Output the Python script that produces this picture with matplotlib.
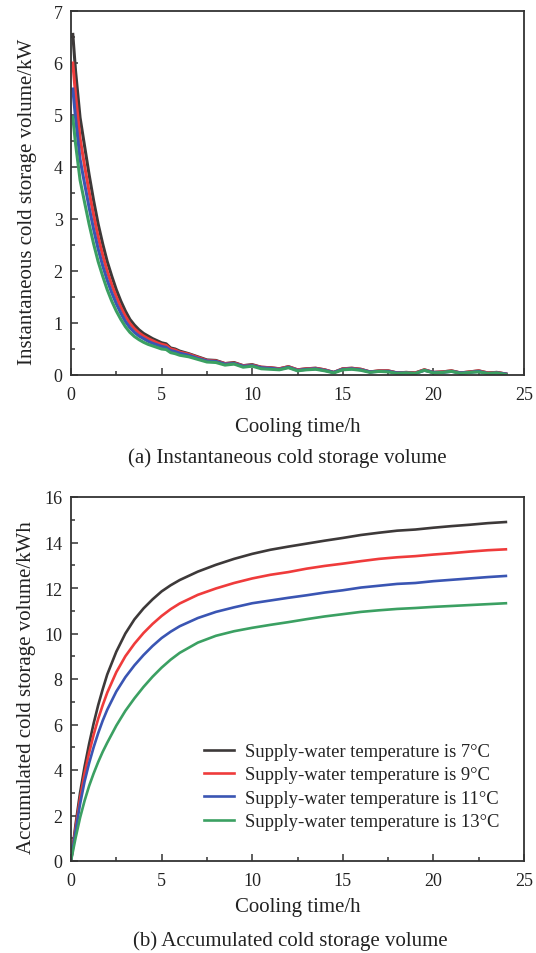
import matplotlib
matplotlib.use("Agg")
import matplotlib.pyplot as plt
from matplotlib.ticker import MultipleLocator

plt.rcParams['font.family'] = ['Liberation Serif', 'DejaVu Serif']

# 图例标签与配色
labels = [
    'Supply-water temperature is 7°C',
    'Supply-water temperature is 9°C',
    'Supply-water temperature is 11°C',
    'Supply-water temperature is 13°C',
]
colors = ['#3d3939', '#ef3b3b', '#3a55b3', '#3ba062']

# (a) 瞬时蓄冷量 /kW
t_inst = [0.1, 0.25, 0.5, 0.75, 1.0, 1.25, 1.5, 1.75, 2.0, 2.25, 2.5, 2.75, 3.0,
          3.25, 3.5, 3.75, 4.0, 4.25, 4.5, 4.75, 5.0, 5.25, 5.5, 5.75, 6.0, 6.5,
          7.0, 7.5, 8.0, 8.5, 9.0, 9.5, 10.0, 10.5, 11.0, 11.5, 12.0, 12.5, 13.0,
          13.5, 14.0, 14.5, 15.0, 15.5, 16.0, 16.5, 17.0, 17.5, 18.0, 18.5, 19.0,
          19.5, 20.0, 20.5, 21.0, 21.5, 22.0, 22.5, 23.0, 23.5, 24.0]
inst_7 = [6.55, 5.85, 4.95, 4.40, 3.85, 3.35, 2.90, 2.52, 2.18, 1.90, 1.64, 1.42, 1.23,
          1.07, 0.96, 0.87, 0.80, 0.75, 0.70, 0.66, 0.62, 0.60, 0.52, 0.50, 0.46, 0.41,
          0.35, 0.29, 0.28, 0.22, 0.24, 0.18, 0.20, 0.15, 0.14, 0.12, 0.16, 0.10, 0.12,
          0.13, 0.10, 0.05, 0.12, 0.13, 0.11, 0.06, 0.08, 0.08, 0.04, 0.05, 0.04,
          0.10, 0.05, 0.06, 0.08, 0.04, 0.06, 0.08, 0.04, 0.05, 0.02]
inst_9 = [6.00, 5.40, 4.55, 4.02, 3.52, 3.07, 2.65, 2.30, 1.99, 1.73, 1.50, 1.30, 1.13,
          0.99, 0.89, 0.81, 0.75, 0.70, 0.66, 0.62, 0.59, 0.57, 0.50, 0.48, 0.44, 0.40,
          0.34, 0.28, 0.27, 0.22, 0.23, 0.18, 0.19, 0.15, 0.14, 0.12, 0.16, 0.10, 0.12,
          0.13, 0.10, 0.05, 0.12, 0.13, 0.11, 0.06, 0.08, 0.08, 0.04, 0.05, 0.04,
          0.10, 0.05, 0.06, 0.08, 0.04, 0.06, 0.08, 0.04, 0.05, 0.02]
inst_11 = [5.50, 4.95, 4.15, 3.68, 3.22, 2.80, 2.42, 2.10, 1.82, 1.58, 1.37, 1.19, 1.03,
           0.91, 0.82, 0.75, 0.70, 0.65, 0.61, 0.58, 0.55, 0.53, 0.47, 0.45, 0.42, 0.38,
           0.32, 0.27, 0.26, 0.21, 0.22, 0.17, 0.18, 0.14, 0.13, 0.11, 0.15, 0.09, 0.11,
           0.12, 0.09, 0.05, 0.11, 0.12, 0.10, 0.06, 0.07, 0.07, 0.04, 0.04, 0.03,
           0.09, 0.05, 0.05, 0.07, 0.04, 0.05, 0.07, 0.03, 0.04, 0.02]
inst_13 = [4.96, 4.45, 3.75, 3.32, 2.90, 2.52, 2.18, 1.90, 1.64, 1.42, 1.23, 1.07, 0.93,
           0.82, 0.74, 0.68, 0.63, 0.59, 0.56, 0.53, 0.50, 0.49, 0.43, 0.41, 0.38, 0.35,
           0.30, 0.25, 0.24, 0.19, 0.21, 0.15, 0.17, 0.12, 0.11, 0.10, 0.14, 0.08, 0.10,
           0.11, 0.08, 0.04, 0.10, 0.11, 0.09, 0.05, 0.07, 0.06, 0.03, 0.04, 0.03,
           0.09, 0.04, 0.05, 0.07, 0.03, 0.05, 0.06, 0.03, 0.04, 0.01]

# (b) 累计蓄冷量 /kWh
t_acc = [0, 0.25, 0.5, 0.75, 1, 1.25, 1.5, 1.75, 2, 2.5, 3, 3.5, 4, 4.5, 5, 5.5, 6,
         7, 8, 9, 10, 11, 12, 13, 14, 15, 16, 17, 18, 19, 20, 21, 22, 23, 24]
acc_7 = [0, 1.6, 3.0, 4.15, 5.15, 6.05, 6.85, 7.55, 8.2, 9.2, 10.0, 10.62, 11.1,
         11.5, 11.85, 12.12, 12.35, 12.72, 13.02, 13.28, 13.5, 13.68, 13.82, 13.95,
         14.08, 14.2, 14.33, 14.43, 14.52, 14.57, 14.65, 14.72, 14.78, 14.85, 14.9]
acc_9 = [0, 1.45, 2.75, 3.85, 4.75, 5.55, 6.25, 6.85, 7.4, 8.3, 9.0, 9.55, 10.02,
         10.42, 10.77, 11.07, 11.32, 11.7, 11.98, 12.22, 12.42, 12.58, 12.7, 12.85,
         12.97, 13.07, 13.18, 13.28, 13.35, 13.4, 13.47, 13.53, 13.6, 13.66, 13.7]
acc_11 = [0, 1.3, 2.5, 3.5, 4.3, 5.0, 5.62, 6.17, 6.65, 7.45, 8.08, 8.6, 9.05,
          9.45, 9.8, 10.08, 10.32, 10.68, 10.95, 11.15, 11.33, 11.45, 11.57, 11.68,
          11.8, 11.9, 12.02, 12.1, 12.18, 12.22, 12.3, 12.36, 12.42, 12.48, 12.53]
acc_13 = [0, 1.0, 1.9, 2.65, 3.3, 3.85, 4.35, 4.8, 5.2, 5.95, 6.6, 7.15, 7.65,
          8.1, 8.5, 8.85, 9.15, 9.6, 9.9, 10.1, 10.25, 10.38, 10.5, 10.63,
          10.75, 10.85, 10.95, 11.02, 11.08, 11.12, 11.17, 11.21, 11.25, 11.29, 11.33]

AX_COLOR = '#333333'


def style_axes(ax, ymax, ymajor, yminor):
    """统一坐标轴样式：内向刻度、次刻度"""
    ax.set_xlim(0, 25)
    ax.set_ylim(0, ymax)
    ax.xaxis.set_major_locator(MultipleLocator(5))
    ax.xaxis.set_minor_locator(MultipleLocator(2.5))
    ax.yaxis.set_major_locator(MultipleLocator(ymajor))
    ax.yaxis.set_minor_locator(MultipleLocator(yminor))
    for sp in ax.spines.values():
        sp.set_color(AX_COLOR)
        sp.set_linewidth(1.3)
    ax.tick_params(which='both', direction='in', top=False, right=False,
                   colors=AX_COLOR, width=1.1, labelsize=13, labelcolor='#222222')
    ax.tick_params(which='major', length=5)
    ax.tick_params(which='minor', length=3)
    ax.tick_params(axis='x', pad=8)
    ax.tick_params(axis='y', pad=6)


fig = plt.figure(figsize=(5.36, 9.54), dpi=100)

# 上图 (a)
ax1 = fig.add_axes([71 / 536, 1 - 376 / 954, 453 / 536, 364 / 954])
for y, c in zip([inst_7, inst_9, inst_11, inst_13], colors):
    ax1.plot(t_inst, y, color=c, lw=2.2)
style_axes(ax1, 7, 1, 0.5)
ax1.set_ylabel('Instantaneous cold storage volume/kW', fontsize=15, color='#222222')
ax1.yaxis.set_label_coords(-0.076, 0.478)
ax1.set_xlabel('Cooling time/h', fontsize=15, color='#222222')
ax1.xaxis.set_label_coords(0.5, -0.115)
fig.text(287 / 536, 1 - 458 / 954, '(a) Instantaneous cold storage volume',
         ha='center', va='center', fontsize=15, color='#222222')

# 下图 (b)
ax2 = fig.add_axes([71 / 536, 1 - 862 / 954, 453 / 536, 364 / 954])
for y, c, lab in zip([acc_7, acc_9, acc_11, acc_13], colors, labels):
    ax2.plot(t_acc, y, color=c, lw=1.9, label=lab)
style_axes(ax2, 16, 2, 1)
ax2.set_ylabel('Accumulated cold storage volume/kWh', fontsize=15, color='#222222')
ax2.yaxis.set_label_coords(-0.078, 0.479)
ax2.set_xlabel('Cooling time/h', fontsize=15, color='#222222')
ax2.xaxis.set_label_coords(0.5, -0.099)
fig.text(290 / 536, 1 - 941 / 954, '(b) Accumulated cold storage volume',
         ha='center', va='center', fontsize=15, color='#222222')

leg = ax2.legend(loc='upper left', bbox_to_anchor=(204 / 536, 1 - 744 / 954),
                 bbox_transform=fig.transFigure, frameon=False, fontsize=13.4,
                 handlelength=1.6, handletextpad=0.6, labelspacing=0.345,
                 borderpad=0, borderaxespad=0)
for txt in leg.get_texts():
    txt.set_color('#222222')

fig.savefig('out.png', dpi=100, facecolor='white')
